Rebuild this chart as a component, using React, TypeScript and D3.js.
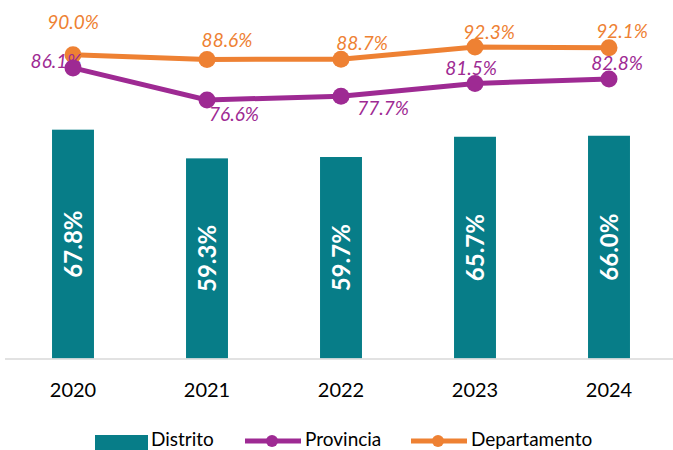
import React, { useEffect, useRef } from 'react';
import * as d3 from 'd3';

const years = ['2020', '2021', '2022', '2023', '2024'];
const distrito = [67.8, 59.3, 59.7, 65.7, 66.0];
const provincia = [86.1, 76.6, 77.7, 81.5, 82.8];
const departamento = [90.0, 88.6, 88.7, 92.3, 92.1];

// label offsets from the marker (dx, dy to baseline)
const provOffsets = [[-17, 0], [27, 21], [42, 19], [-4, -8], [8, -9]];
const depOffsets = [[0, -26], [20, -12], [21, -9], [14, -8], [13, -10]];

const TEAL = '#077d88';
const PURPLE = '#9e2a93';
const ORANGE = '#ee8133';

function App() {
  const svgRef = useRef<SVGSVGElement>(null);

  useEffect(() => {
    const svg = d3.select(svgRef.current);
    const width = 673;
    const baseline = 358.5;
    const font = 'Lato, "Open Sans", sans-serif';

    // x band scale for the years
    const x = d3.scaleBand<string>()
      .domain(years)
      .range([6, 676])
      .paddingInner(0.687)
      .paddingOuter(0.3435);

    // one y scale for bars and lines
    const y = d3.scaleLinear().domain([0, 100]).range([baseline, baseline - 337.5]);

    // bars
    svg.append('g')
      .selectAll('rect')
      .data(distrito)
      .enter()
      .append('rect')
      .attr('x', (d, i) => x(years[i])!)
      .attr('y', (d) => y(d))
      .attr('width', x.bandwidth())
      .attr('height', (d) => baseline - y(d))
      .style('fill', TEAL);

    // bar labels, rotated
    svg.append('g')
      .selectAll('text')
      .data(distrito)
      .enter()
      .append('text')
      .attr('transform', (d, i) => {
        const cx = x(years[i])! + x.bandwidth() / 2;
        const cy = (y(d) + baseline) / 2;
        return `translate(${cx},${cy}) rotate(-90)`;
      })
      .attr('text-anchor', 'middle')
      .attr('dy', '0.36em')
      .style('font-family', font)
      .style('font-weight', 'bold')
      .style('font-size', '24px')
      .style('fill', '#ffffff')
      .text((d) => d.toFixed(1) + '%');

    // axis baseline
    svg.append('line')
      .attr('x1', 5)
      .attr('x2', width)
      .attr('y1', baseline + 0.5)
      .attr('y2', baseline + 0.5)
      .style('stroke', '#d9d9d9')
      .style('stroke-width', 1.5);

    // year labels
    svg.append('g')
      .selectAll('text')
      .data(years)
      .enter()
      .append('text')
      .attr('x', (d) => x(d)! + x.bandwidth() / 2)
      .attr('y', 397)
      .attr('text-anchor', 'middle')
      .style('font-family', font)
      .style('font-size', '20px')
      .style('fill', '#000')
      .text((d) => d);

    const line = d3.line<number>()
      .x((d, i) => x(years[i])! + x.bandwidth() / 2)
      .y((d) => y(d));

    const drawSeries = (values: number[], color: string, offsets: number[][]) => {
      const g = svg.append('g');
      g.append('path')
        .datum(values)
        .attr('d', line)
        .style('fill', 'none')
        .style('stroke', color)
        .style('stroke-width', 5);
      g.selectAll('circle')
        .data(values)
        .enter()
        .append('circle')
        .attr('cx', (d, i) => x(years[i])! + x.bandwidth() / 2)
        .attr('cy', (d) => y(d))
        .attr('r', 8.5)
        .style('fill', color);
      g.selectAll('text')
        .data(values)
        .enter()
        .append('text')
        .attr('x', (d, i) => x(years[i])! + x.bandwidth() / 2 + offsets[i][0])
        .attr('y', (d, i) => y(d) + offsets[i][1])
        .attr('text-anchor', 'middle')
        .style('font-family', font)
        .style('font-style', 'italic')
        .style('font-size', '19px')
        .style('fill', color)
        .text((d) => d.toFixed(1) + '%');
    };

    drawSeries(departamento, ORANGE, depOffsets);
    drawSeries(provincia, PURPLE, provOffsets);

    // legend
    const legend = svg.append('g').style('font-family', font).style('font-size', '19px');
    legend.append('rect')
      .attr('x', 95).attr('y', 435).attr('width', 53).attr('height', 16)
      .style('fill', TEAL);
    legend.append('text').attr('x', 151).attr('y', 446).text('Distrito');

    const legendLine = (x1: number, color: string, label: string) => {
      legend.append('line')
        .attr('x1', x1).attr('x2', x1 + 56)
        .attr('y1', 441).attr('y2', 441)
        .style('stroke', color).style('stroke-width', 5);
      legend.append('circle')
        .attr('cx', x1 + 27).attr('cy', 441).attr('r', 6)
        .style('fill', color);
      legend.append('text').attr('x', x1 + 60).attr('y', 446).text(label);
    };
    legendLine(245, PURPLE, 'Provincia');
    legendLine(411, ORANGE, 'Departamento');

    return () => { svg.selectAll('*').remove(); };
  }, []);

  return <svg ref={svgRef} width={673} height={450} style={{ position: 'absolute', left: 0, top: 0 }}></svg>;
}

export default App;
